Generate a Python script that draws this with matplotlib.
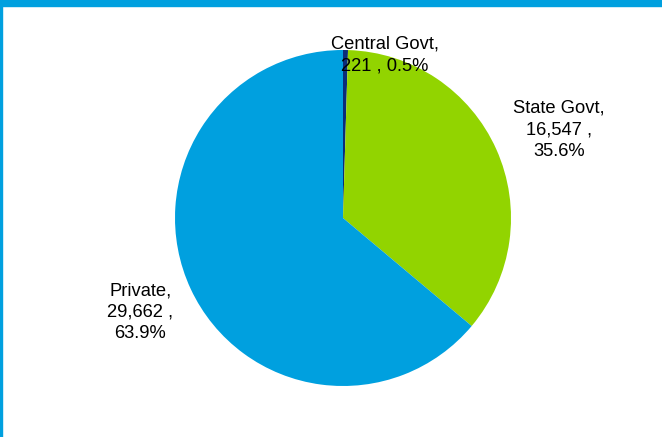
import numpy as np
import matplotlib.pyplot as plt
from matplotlib.patches import Rectangle

plt.rcParams['font.family'] = ['Liberation Sans', 'DejaVu Sans']

# Data
categories = ['Central Govt', 'State Govt', 'Private']
values = [221, 16547, 29662]
colors = ['#0B2C7A', '#92D400', '#00A0DF']

fig = plt.figure(figsize=(6.62, 4.37), dpi=100)

# frame: blue bar on top, thin line on the left
fig.patches.append(Rectangle((0, 1 - 6 / 437), 1, 6 / 437, transform=fig.transFigure,
                             color='#00A0DF', zorder=0))
fig.patches.append(Rectangle((0, 0), 1.5 / 662, 1, transform=fig.transFigure,
                             color='#00A0DF', zorder=0))

# square axes so the pie has radius 168 px centred at (343, 219)
ax = fig.add_axes([175 / 662, 51 / 437, 336 / 662, 336 / 437])
wedges, _ = ax.pie(values, colors=colors, startangle=90, counterclock=False,
                   radius=1, wedgeprops=dict(linewidth=0))
ax.set_xlim(-1, 1)
ax.set_ylim(-1, 1)
ax.set_aspect('equal')
ax.axis('off')

total = sum(values)
label_dist = [None, 1.39, 1.33]
label_turn = [0, -2, 0]
for i, (w, name, v) in enumerate(zip(wedges, categories, values)):
    pct = 100 * v / total
    mid = np.deg2rad((w.theta1 + w.theta2) / 2 + label_turn[i])
    if i == 0:
        # small slice: label sits just above and right of the wedge
        txt = f'{name},\n{v:,} , {pct:.1f}%'
        x, y = 0.25, 0.97
    else:
        txt = f'{name},\n{v:,} ,\n{pct:.1f}%'
        x, y = label_dist[i] * np.cos(mid), label_dist[i] * np.sin(mid)
    ax.text(x, y, txt, ha='center', va='center', fontsize=13.2,
            linespacing=1.35, clip_on=False)

fig.savefig('out.png', dpi=100)
